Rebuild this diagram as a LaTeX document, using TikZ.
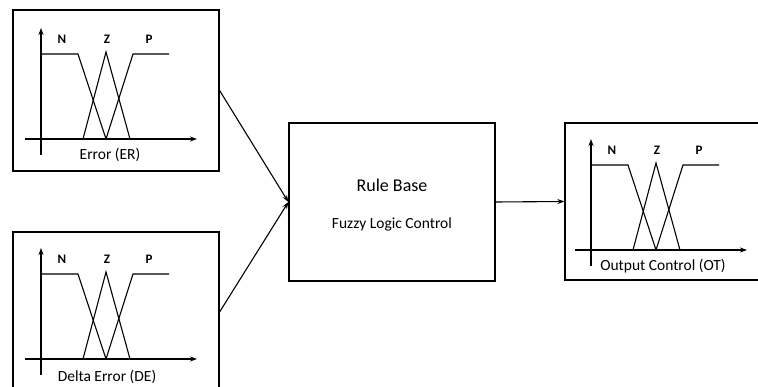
\documentclass[tikz,border=0pt]{standalone}
\usepackage{fontspec}
\setmainfont{Carlito}
\usetikzlibrary{arrows.meta,positioning}

\tikzset{
  block/.style={draw, line width=1.2pt, inner sep=0pt},
  axis/.style={line width=1.1pt, -{Stealth[length=7pt,width=5pt]}},
  mfline/.style={line width=1.1pt},
  link/.style={line width=1.1pt, -{Stealth[length=7pt,width=5pt]}},
  mflabel/.style={font=\fontsize{13}{15}\selectfont\bfseries},
  % membership functions N, Z, P on one pair of axes
  mfplot/.pic={
    \draw [axis] (-16,0) -- (156,0);
    \draw [axis] (0,16) -- (0,-111);
    \draw [mfline] (0,-85) -- (37,-85) -- (65,0);
    \draw [mfline] (42,0) -- (65,-87) -- (89,0);
    \draw [mfline] (65,0) -- (92,-85) -- (128,-85);
    \node [mflabel] (n) at (21,-100) {N};
    \node [mflabel] (z) at (66,-100) {Z};
    \node [mflabel] (p) at (108,-100) {P};
  }
}

\begin{document}
\begin{tikzpicture}[x=1pt, y=-1pt]
		\tikzstyle{every node}=[font=\fontsize{15.5}{18}\selectfont]
		\useasboundingbox (0,0) rectangle (758,387);
		\clip (0,0) rectangle (758,387);
		% blocks
		\node [block, minimum width=206pt, minimum height=161pt] (er) at (116,90.5) {};
		\node [block, minimum width=206pt, minimum height=160pt] (de) at (116,312) {};
		\node [block, minimum width=206pt, minimum height=158pt] (rule) at (392,202) {};
		\node [block, minimum width=200pt, minimum height=157pt] (ot) at (665,201.5) {};
		% plots
		\pic (erplot) at (41,139) {mfplot};
		\pic (deplot) at (41,359) {mfplot};
		\pic (otplot) at (591,250) {mfplot};
		\node (ertitle) at (110,155) {Error (ER)};
		\node (detitle) at (107,377) {Delta Error (DE)};
		\node (ottitle) at (663,266) {Output Control (OT)};
		\node [font=\fontsize{18}{20}\selectfont] (rulebase) at (392,185) {Rule Base};
		\node (flc) at (392,224) {Fuzzy Logic Control};
		% connections
		\draw [link] (er.east) -- (rule.west);
		\draw [link] (de.east) -- (rule.west);
		\draw [link] (rule.east) -- (ot.west);
	\end{tikzpicture}
\end{document}
